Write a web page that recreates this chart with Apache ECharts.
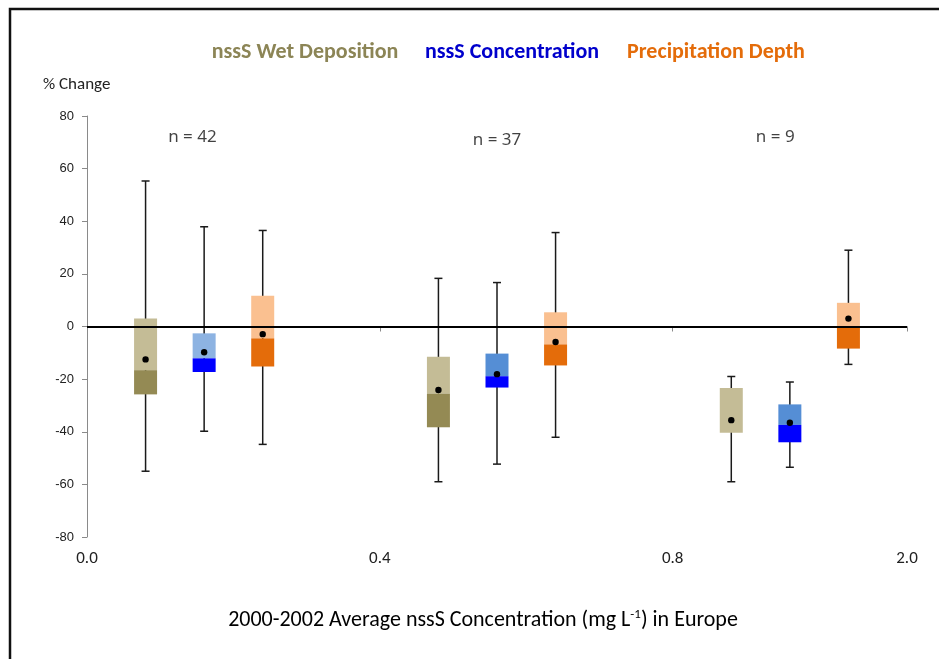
<!DOCTYPE html>
<html>
<head>
<meta charset="utf-8">
<script src="https://cdn.jsdelivr.net/npm/echarts@6/dist/echarts.min.js"></script>
<style>html,body{margin:0;padding:0;background:#fff}#chart{width:939px;height:659px}</style>
</head>
<body>
<div id="chart"></div>
<script>
// ---- data ----
const seriesNames = ['nssS Wet Deposition', 'nssS Concentration', 'Precipitation Depth'];
const xTickLabels = ['0.0', '0.4', '0.8', '2.0'];
const xTickValues = [0, 1, 2, 2.8];
// box positions on the (section-unit) x axis
const wetX = [0.2, 1.2, 2.2];
const concX = [0.4, 1.4, 2.4];
const precipX = [0.6, 1.6, 2.6];
// [whiskerLow, Q1, median, Q3, whiskerHigh, mean]
const wetStats = [
  [-55, -25.8, -16.6, 3.0, 55.3, -12.5],
  [-59, -38.3, -25.5, -11.5, 18.3, -24.1],
  [-59, -40.4, -40.4, -23.4, -19.0, -35.6]
];
const concStats = [
  [-39.8, -17.3, -12.1, -2.6, 37.9, -9.8],
  [-52.3, -23.2, -18.9, -10.3, 16.7, -18.1],
  [-53.5, -44.0, -37.4, -29.6, -21.1, -36.6]
];
const precipStats = [
  [-44.8, -15.2, -4.5, 11.7, 36.5, -2.9],
  [-42.1, -14.8, -6.8, 5.4, 35.7, -5.9],
  [-14.4, -8.4, -0.1, 9.0, 29.0, 3.0]
];
const nLabels = ['n = 42', 'n = 37', 'n = 9'];
const nX = [0.36, 1.40, 2.35];
const nY = [72, 71, 72];

// ---- styles ----
const darkColors = ['#948a54', '#0000ff', '#e46c0a'];
const lightColors = [
  ['#c4bc96', '#c4bc96', '#c4bc96'],
  ['#8db3e2', '#558ed5', '#558ed5'],
  ['#fac090', '#fac090', '#fac090']
];
const legendColors = ['#8c8556', '#0000cc', '#e46c0a'];
const BOX_W = 23, CAP_W = 8;
const FONT = 'Carlito, "Liberation Sans Narrow", "Noto Sans", sans-serif';

function makeData(xs, stats) {
  return xs.map((x, i) => [x].concat(stats[i]));
}

function makeRender(si) {
  return function (params, api) {
    const x = api.value(0);
    const lo = api.coord([x, api.value(1)]);
    const q1 = api.coord([x, api.value(2)]);
    const md = api.coord([x, api.value(3)]);
    const q3 = api.coord([x, api.value(4)]);
    const hi = api.coord([x, api.value(5)]);
    const mn = api.coord([x, api.value(6)]);
    const cx = lo[0];
    const lineStyle = { stroke: '#1a1a1a', lineWidth: 1.5 };
    return {
      type: 'group',
      children: [
        { type: 'line', shape: { x1: cx, y1: lo[1], x2: cx, y2: hi[1] }, style: lineStyle },
        { type: 'line', shape: { x1: cx - CAP_W / 2, y1: lo[1], x2: cx + CAP_W / 2, y2: lo[1] }, style: lineStyle },
        { type: 'line', shape: { x1: cx - CAP_W / 2, y1: hi[1], x2: cx + CAP_W / 2, y2: hi[1] }, style: lineStyle },
        { type: 'rect', shape: { x: cx - BOX_W / 2, y: q3[1], width: BOX_W, height: md[1] - q3[1] },
          style: { fill: lightColors[si][params.dataIndex] } },
        { type: 'rect', shape: { x: cx - BOX_W / 2, y: md[1], width: BOX_W, height: q1[1] - md[1] },
          style: { fill: darkColors[si] } },
        { type: 'circle', shape: { cx: cx, cy: mn[1], r: 3.2 }, style: { fill: '#000' } }
      ]
    };
  };
}

const chart = echarts.init(document.getElementById('chart'), null, { renderer: 'canvas' });
const allX = [wetX, concX, precipX];
const allStats = [wetStats, concStats, precipStats];

const series = seriesNames.map((name, si) => ({
  name: name,
  type: 'custom',
  renderItem: makeRender(si),
  encode: { x: 0, y: [1, 2, 3, 4, 5, 6] },
  data: makeData(allX[si], allStats[si]),
  z: 3
}));
series.push({
  type: 'scatter',
  symbolSize: 0,
  data: nX.map((x, i) => [x, nY[i], nLabels[i]]),
  label: {
    show: true, position: 'inside', formatter: p => p.data[2],
    fontFamily: '"Noto Sans", sans-serif', fontSize: 17, color: '#111'
  },
  silent: true,
  markLine: {
    silent: true, symbol: 'none', label: { show: false },
    lineStyle: { color: '#000', width: 2, type: 'solid' },
    data: [{ yAxis: 0 }]
  },
  z: 2
});

chart.setOption({
  animation: false,
  backgroundColor: '#fff',
  grid: { left: 87, right: 32, top: 116, bottom: 122 },
  xAxis: {
    type: 'value', min: 0, max: 2.8, interval: 1,
    splitLine: { show: false },
    axisLine: { lineStyle: { color: '#8a8a8a', width: 1 } },
    axisTick: { show: true, length: 5, lineStyle: { color: '#8a8a8a' } },
    axisLabel: {
      margin: 13, fontSize: 17, color: '#222', fontFamily: FONT,
      formatter: v => { const i = xTickValues.findIndex(t => Math.abs(t - v) < 1e-6); return i >= 0 ? xTickLabels[i] : ''; }
    }
  },
  yAxis: {
    type: 'value', min: -80, max: 80, interval: 20,
    splitLine: { show: false },
    axisLine: { show: true, lineStyle: { color: '#8a8a8a', width: 1 } },
    axisTick: { show: true, length: 5, lineStyle: { color: '#8a8a8a' } },
    axisLabel: { margin: 13, fontSize: 13, color: '#222', fontFamily: '"Liberation Sans", Arial, sans-serif' }
  },
  series: series,
  graphic: [
    { type: 'rect', shape: { x: 10, y: 9, width: 1000, height: 700 },
      style: { fill: 'none', stroke: '#111', lineWidth: 2.5 }, z: 10 },
    { type: 'text', left: 43, top: 76,
      style: { text: '% Change', fontSize: 17, fill: '#222', fontFamily: FONT } },
    { type: 'text', x: 305, y: 52,
      style: { text: seriesNames[0], fontSize: 22, fontWeight: 'bold', fill: legendColors[0], fontFamily: FONT, align: 'center', verticalAlign: 'middle' } },
    { type: 'text', x: 512, y: 52,
      style: { text: seriesNames[1], fontSize: 22, fontWeight: 'bold', fill: legendColors[1], fontFamily: FONT, align: 'center', verticalAlign: 'middle' } },
    { type: 'text', x: 716, y: 52,
      style: { text: seriesNames[2], fontSize: 22, fontWeight: 'bold', fill: legendColors[2], fontFamily: FONT, align: 'center', verticalAlign: 'middle' } },
    { type: 'text', x: 483, y: 620,
      style: {
        text: '{a|2000-2002 Average nssS Concentration (mg L}{s|-1}{a|) in Europe}',
        align: 'center', verticalAlign: 'middle',
        rich: {
          a: { fontSize: 22, color: '#222', fontFamily: FONT },
          s: { fontSize: 13, color: '#222', fontFamily: FONT, padding: [0, 0, 10, 0] }
        }
      } }
  ]
});
</script>
</body>
</html>
